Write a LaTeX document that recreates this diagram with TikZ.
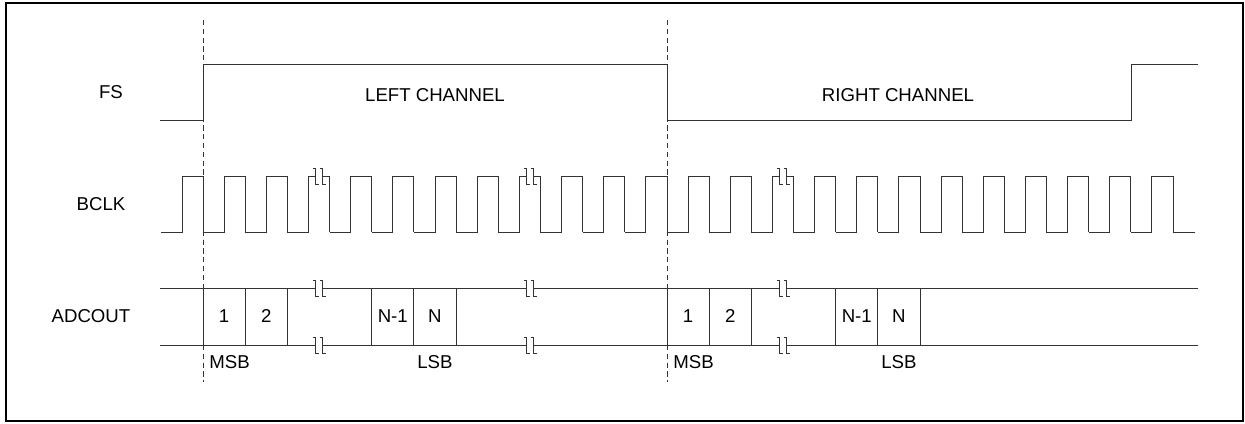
\documentclass[tikz,border=0pt]{standalone}
\usepackage{fontspec}
\setmainfont{Liberation Sans}
\newcommand{\breakmark}[2]{%
	\fill[white] (#1-3.5,#2-1.5) rectangle (#1+3.5,#2+1.5);
	\foreach \s in {-3.5,3.5} {
		\draw (#1+\s-3,#2-8) -- (#1+\s,#2-8) -- (#1+\s,#2+8) -- (#1+\s+3,#2+8);
	}
}
\begin{document}
\begin{tikzpicture}[x=0.02cm, y=-0.02cm, line width=0.5pt, color=black!80,
		lbl/.style={font=\fontsize{10.6}{12}\selectfont, text=black, inner sep=0pt}]
				\useasboundingbox (0,0) rectangle (1245,423);
				\draw[line width=0.9pt, black] (6,3) rectangle (1243,421);
				% frame sync
				\draw (160,120) -- (203,120) -- (203,64) -- (667,64) -- (667,120) -- (1131,120) -- (1131,64) -- (1198,64);
				\foreach \x in {203, 667} {
					\draw[line width=0.45pt, dash pattern=on 3pt off 2pt] (\x,20) -- (\x,382);
				}
				% bit clock
				\foreach \k in {0,...,23} {
					\pgfmathsetmacro\r{182+\k*42.17}
					\pgfmathsetmacro\f{\r+21.085}
					\draw (\r-21.085,232) -- (\r,232) -- (\r,176) -- (\f,176) -- (\f,232);
				}
				\draw (1173,232) -- (1195,232);
				% data
				\draw (160,288) -- (1198,288);
				\draw (160,345) -- (1198,345);
				\foreach \s in {203, 667} {
					\foreach \i in {0,1,2,4,5,6} {
						\draw (\s+\i*42.17,288) -- (\s+\i*42.17,345);
					}
				}
				\foreach \x in {319, 530, 783} {
					\breakmark{\x}{288}
					\breakmark{\x}{345}
				}
				\foreach \x in {319, 530, 783} {
					\breakmark{\x}{176}
				}
				% labels
				\node[lbl] (fs) at (111,92) {FS};
				\node[lbl] (bclk) at (101,204) {BCLK};
				\node[lbl] (adcout) at (91,316) {ADCOUT};
				\node[lbl] (left) at (435,95) {LEFT CHANNEL};
				\node[lbl] (right) at (898,95) {RIGHT CHANNEL};
				\foreach \s/\n in {203/l, 667/r} {
					\node[lbl] (\n one) at (\s+21.085,316) {1};
					\node[lbl] (\n two) at (\s+63.25,316) {2};
					\node[lbl] (\n nm) at (\s+189.8,316) {N-1};
					\node[lbl] (\n nn) at (\s+231.9,316) {N};
					\node[lbl, anchor=west] (\n msb) at (\s+6,362) {MSB};
					\node[lbl] (\n lsb) at (\s+231.9,362) {LSB};
				}
			\end{tikzpicture}
\end{document}
